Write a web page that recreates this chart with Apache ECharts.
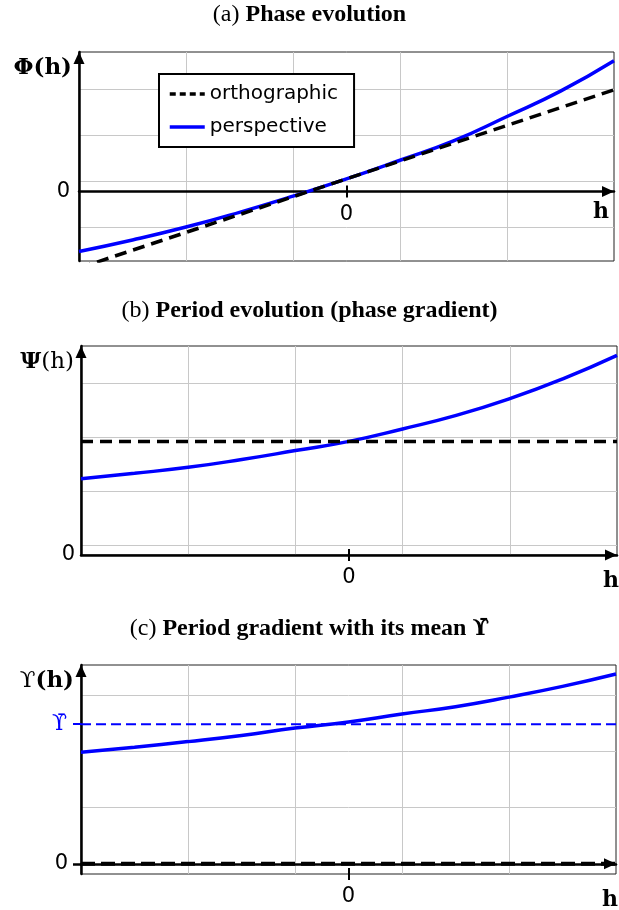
<!DOCTYPE html>
<html>
<head>
<meta charset="utf-8">
<script src="https://cdn.jsdelivr.net/npm/echarts@6/dist/echarts.min.js"></script>
<style>
  html, body { margin: 0; padding: 0; background: #fff; }
  #chart { width: 619px; height: 910px; }
</style>
</head>
<body>
<div id="chart"></div>
<script>
// Sample positions along h (shared by every panel)
const hValues = [-2.5, -2, -1.5, -1, -0.5, 0, 0.5, 1, 1.5, 2, 2.5];

// (a) Phase evolution
const phaseOrthoH = [-2.5, 2.5];
const phaseOrtho = [-1.66, 2.21];
const phasePersp = [-1.30, -1.05, -0.77, -0.45, -0.10, 0.275, 0.68, 1.10, 1.63, 2.18, 2.84];

// (b) Period evolution (phase gradient)
const periodOrtho = 2.10;
const periodPersp = [1.41, 1.51, 1.62, 1.765, 1.93, 2.10, 2.33, 2.58, 2.89, 3.26, 3.69];

// (c) Period gradient and its mean
const gradOrtho = 0;
const gradPersp = [1.98, 2.07, 2.17, 2.28, 2.41, 2.52, 2.66, 2.79, 2.96, 3.15, 3.37];
const gradMean = 2.48;

// Axis extents, grid-line positions and tick labels
const hRange = [-2.5, 2.5];
const hGridLines = [-1.5, -0.5, 0.5, 1.5];
const phaseRange = [-1.507, 3.03];
const phaseGridLines = [-0.774, 0.226, 1.226, 2.226];
const periodRange = [0, 3.863];
const periodGridLines = [0.172, 1.172, 2.172, 3.172];
const gradRange = [-0.18, 3.53];
const gradGridLines = [0, 1, 2, 3];
const zeroTicks = [0];
const meanLabel = '\u03D2\u0304';

const titles = [
  ['(a)', 'Phase evolution', ''],
  ['(b)', 'Period evolution (phase gradient)', ''],
  ['(c)', 'Period gradient with its mean', '\u03D2\u0304']
];

const BLUE = '#0000ff';
const GRID_GRAY = '#c8c8c8';
const SANS = 'DejaVu Sans';
const SERIF = 'DejaVu Serif';
const TITLE_SERIF = 'Liberation Serif';

const axisLineStyle = { color: '#000', width: 2.5 };
const labelStyle = { fontFamily: SANS, fontSize: 21, color: '#000' };
const tickStyle = { color: '#000', width: 2 };

const gridBoxes = [
  { left: 79, top: 52, width: 535, height: 209 },
  { left: 81, top: 346, width: 536, height: 209 },
  { left: 81, top: 665, width: 535, height: 209 }
];

const xAxes = [];
const yAxes = [];
const series = [];

function addX(o) { xAxes.push(Object.assign({ type: 'value', min: hRange[0], max: hRange[1], position: 'bottom' }, o)); return xAxes.length - 1; }
function addY(o) { yAxes.push(Object.assign({ type: 'value', position: 'left' }, o)); return yAxes.length - 1; }

function hName(gap, padTop) {
  return {
    name: 'h', nameLocation: 'end', nameGap: gap, nameMoveOverlap: false,
    nameTextStyle: { fontFamily: SERIF, fontWeight: 'bold', fontSize: 22, color: '#000', align: 'right', verticalAlign: 'top', padding: [padTop, 0, 0, 0] }
  };
}

function gridXAxis(g) {
  return addX({
    gridIndex: g,
    axisLine: { show: false, onZero: false },
    axisTick: { show: false, customValues: hGridLines },
    axisLabel: { show: false },
    splitLine: { show: true, lineStyle: { color: GRID_GRAY, width: 1 } }
  });
}
function gridYAxis(g, range, lines) {
  return addY({
    gridIndex: g, min: range[0], max: range[1],
    axisLine: { show: false, onZero: false },
    axisTick: { show: false, customValues: lines },
    axisLabel: { show: false },
    splitLine: { show: true, lineStyle: { color: GRID_GRAY, width: 1 } }
  });
}
// Tick/label axis that sits on the horizontal line y = 0 of a panel
function zeroLineOffset(g, range) {
  return -gridBoxes[g].height * (0 - range[0]) / (range[1] - range[0]);
}
function tickAxes(g, offset, name) {
  addX(Object.assign({
    gridIndex: g, offset: offset,
    axisLine: { show: false, onZero: false },
    axisTick: { show: true, customValues: zeroTicks, length: 6, lineStyle: tickStyle },
    axisLabel: Object.assign({ customValues: zeroTicks, margin: 12 }, labelStyle),
    splitLine: { show: false }
  }, name));
  addX({
    gridIndex: g, offset: offset,
    axisLine: { show: false, onZero: false },
    axisTick: { show: true, inside: true, customValues: zeroTicks, length: 6, lineStyle: tickStyle },
    axisLabel: { show: false },
    splitLine: { show: false }
  });
}
function yName(text) {
  return {
    name: text, nameLocation: 'end', nameGap: -16, nameMoveOverlap: false,
    nameTextStyle: { align: 'right', verticalAlign: 'middle', padding: [0, 7, 0, 0], fontFamily: SERIF, fontSize: 23, color: '#000', rich: nameRich }
  };
}
const nameRich = {
  b: { fontFamily: SERIF, fontSize: 23, fontWeight: 'bold', color: '#000' },
  n: { fontFamily: SERIF, fontSize: 23, fontWeight: 'normal', color: '#000' }
};
const arrowLine = (onZero) => ({ show: true, onZero: onZero, lineStyle: axisLineStyle, symbol: ['none', 'triangle'], symbolSize: [11, 12], symbolOffset: [0, -6] });

// ---- panel (a) ----
gridXAxis(0);
const yA = addY(Object.assign({
  gridIndex: 0, min: phaseRange[0], max: phaseRange[1],
  axisLine: arrowLine(false),
  axisTick: { show: false, customValues: zeroTicks },
  axisLabel: Object.assign({ customValues: zeroTicks, margin: 9 }, labelStyle),
  splitLine: { show: false }
}, yName('{b|\u03A6(h)}')));
gridYAxis(0, phaseRange, phaseGridLines);
const xA = addX({
  gridIndex: 0,
  axisLine: arrowLine(true),
  axisTick: { show: false }, axisLabel: { show: false }, splitLine: { show: false }
});
tickAxes(0, zeroLineOffset(0, phaseRange), hName(-5, 10));

series.push({
  type: 'line', name: 'perspective', xAxisIndex: xA, yAxisIndex: yA,
  data: hValues.map((h, i) => [h, phasePersp[i]]),
  smooth: true, symbol: 'none', z: 3,
  lineStyle: { color: BLUE, width: 3.5 }, itemStyle: { color: BLUE }
});
series.push({
  type: 'line', name: 'orthographic', xAxisIndex: xA, yAxisIndex: yA,
  data: phaseOrthoH.map((h, i) => [h, phaseOrtho[i]]),
  symbol: 'none', z: 4,
  lineStyle: { color: '#000', width: 3.5, type: [12, 7] }, itemStyle: { color: '#000' }
});

// ---- panel (b) ----
gridXAxis(1);
const yB = addY(Object.assign({
  gridIndex: 1, min: periodRange[0], max: periodRange[1],
  axisLine: arrowLine(false),
  axisTick: { show: false, customValues: zeroTicks },
  axisLabel: Object.assign({ customValues: zeroTicks, margin: 6 }, labelStyle),
  splitLine: { show: false }
}, yName('{b|\u03A8}{n|(h)}')));
gridYAxis(1, periodRange, periodGridLines);
const xB = addX({
  gridIndex: 1,
  axisLine: arrowLine(true),
  axisTick: { show: false }, axisLabel: { show: false }, splitLine: { show: false }
});
tickAxes(1, 0, hName(2, 15));

series.push({
  type: 'line', name: 'perspective period', xAxisIndex: xB, yAxisIndex: yB,
  data: hValues.map((h, i) => [h, periodPersp[i]]),
  smooth: true, symbol: 'none', z: 3,
  lineStyle: { color: BLUE, width: 3.5 }
});
series.push({
  type: 'line', name: 'orthographic period', xAxisIndex: xB, yAxisIndex: yB,
  data: hRange.map(h => [h, periodOrtho]),
  symbol: 'none', z: 4,
  lineStyle: { color: '#000', width: 3.5, type: [12, 7] }
});

// ---- panel (c) ----
gridXAxis(2);
const yC = addY(Object.assign({
  gridIndex: 2, min: gradRange[0], max: gradRange[1],
  axisLine: arrowLine(false),
  axisTick: { show: true, customValues: zeroTicks, length: 8, lineStyle: { color: '#000', width: 2.5 } },
  axisLabel: Object.assign({ customValues: zeroTicks, margin: 13 }, labelStyle),
  splitLine: { show: false }
}, yName('{n|\u03D2}{b|(h)}')));
gridYAxis(2, gradRange, gradGridLines);
addY({
  gridIndex: 2, min: gradRange[0], max: gradRange[1],
  axisLine: { show: false, onZero: false },
  axisTick: { show: true, customValues: [gradMean], length: 8, lineStyle: { color: BLUE, width: 2 } },
  axisLabel: { customValues: [gradMean], formatter: () => meanLabel, margin: 14, fontFamily: SERIF, fontSize: 22, color: BLUE },
  splitLine: { show: false }
});
const xC = addX({
  gridIndex: 2,
  axisLine: arrowLine(true),
  axisTick: { show: false }, axisLabel: { show: false }, splitLine: { show: false }
});
tickAxes(2, 0, hName(2, 15));

series.push({
  type: 'line', name: 'perspective gradient', xAxisIndex: xC, yAxisIndex: yC,
  data: hValues.map((h, i) => [h, gradPersp[i]]),
  smooth: true, symbol: 'none', z: 3,
  lineStyle: { color: BLUE, width: 3.5 }
});
series.push({
  type: 'line', name: 'mean gradient', xAxisIndex: xC, yAxisIndex: yC,
  data: hRange.map(h => [h, gradMean]),
  symbol: 'none', z: 4,
  lineStyle: { color: BLUE, width: 2, type: [10, 5] }
});
series.push({
  type: 'line', name: 'orthographic gradient', xAxisIndex: xC, yAxisIndex: yC,
  data: hRange.map(h => [h, gradOrtho]),
  symbol: 'none', z: 4, clip: false,
  lineStyle: { color: '#000', width: 4, type: [14, 6] }
});

const titleTops = [0, 296, 614];
const titleRich = {
  n: { fontFamily: TITLE_SERIF, fontSize: 24, fontWeight: 'normal', color: '#000' },
  b: { fontFamily: TITLE_SERIF, fontSize: 24, fontWeight: 'bold', color: '#000' },
  s: { fontFamily: SERIF, fontSize: 22, fontWeight: 'bold', color: '#000' }
};
const option = {
  animation: false,
  backgroundColor: '#fff',
  title: titles.map((t, i) => ({
    text: '{n|' + t[0] + '} {b|' + t[1] + '}' + (t[2] ? ' {s|' + t[2] + '}' : ''),
    left: 'center', top: titleTops[i], padding: [3, 0, 4, 5],
    textStyle: { fontFamily: TITLE_SERIF, fontSize: 24, color: '#000', rich: titleRich }
  })),
  legend: {
    left: 159, top: 74, orient: 'vertical',
    data: [
      { name: 'orthographic', lineStyle: { color: '#000', width: 3.5, type: [6, 4] } },
      { name: 'perspective', lineStyle: { color: BLUE, width: 3.5, type: 'solid' } }
    ],
    itemWidth: 35, itemHeight: 14, itemGap: 11,
    itemStyle: { opacity: 0 },
    padding: [9, 16, 9, 9],
    borderColor: '#000', borderWidth: 2, backgroundColor: '#fff',
    selectedMode: false,
    textStyle: { fontFamily: SANS, fontSize: 20, color: '#000', lineHeight: 22 }
  },
  grid: gridBoxes.map(b => Object.assign({ show: true, borderColor: '#222', borderWidth: 1, backgroundColor: 'transparent', containLabel: false, outerBoundsMode: 'none' }, b)),
  xAxis: xAxes,
  yAxis: yAxes,
  series: series
};

const chart = echarts.init(document.getElementById('chart'), null, { renderer: 'canvas' });
chart.setOption(option);
</script>
</body>
</html>
